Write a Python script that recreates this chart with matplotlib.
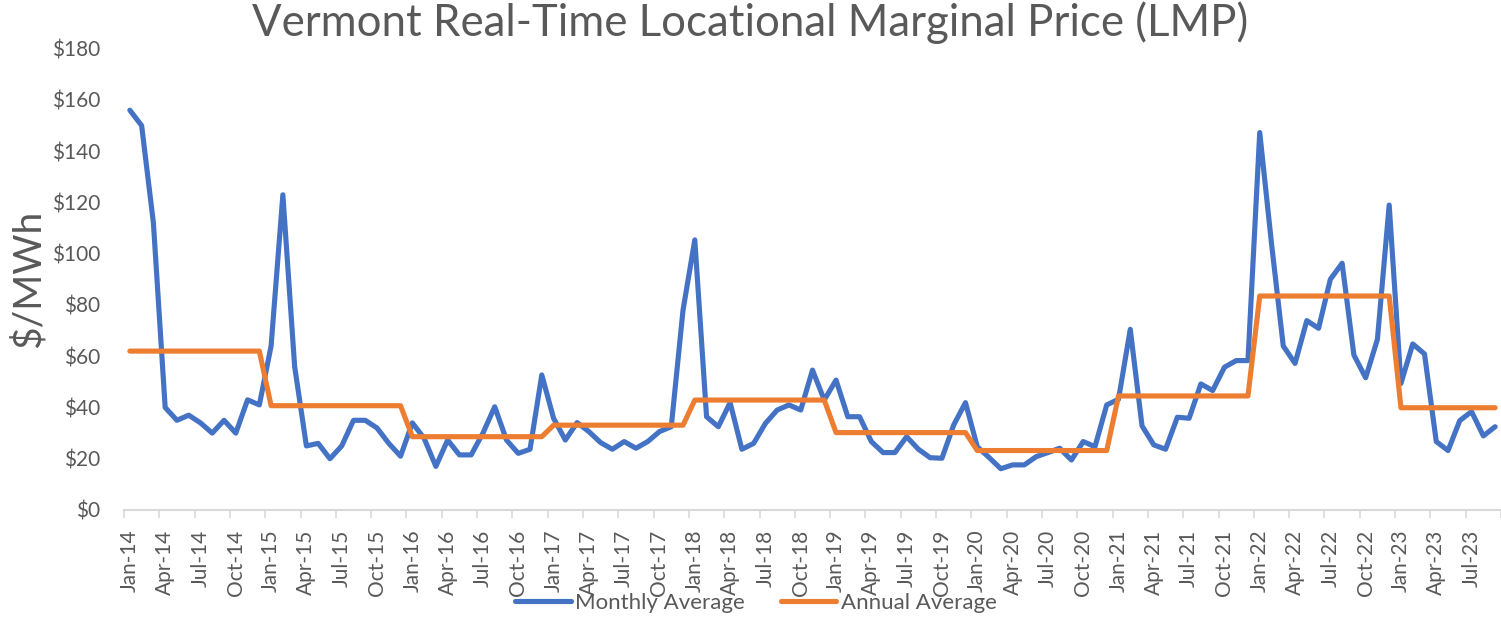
import matplotlib
matplotlib.use('Agg')
import matplotlib.pyplot as plt
import numpy as np

plt.rcParams['font.family'] = ['Lato', 'DejaVu Sans']

# monthly average LMP, Jan-14 .. Sep-23 ($/MWh)
monthly = [
    156, 150, 112, 40, 35, 37, 34, 30, 35, 30, 43, 41,              # 2014
    64, 123, 56, 25, 26, 20, 25, 35, 35, 32, 26, 21,                # 2015
    34, 28, 17, 27.3, 21.5, 21.5, 30, 40.3, 27.3, 22.1, 23.7, 52.7,  # 2016
    35.8, 27.3, 34.1, 30.6, 26.3, 23.7, 26.7, 24.1, 26.7, 30.6, 32.5, 78,  # 2017
    105.4, 36.4, 32.5, 41.9, 23.7, 26, 33.8, 39, 41, 39, 54.6, 42.9,      # 2018
    50.7, 36.4, 36.4, 26.7, 22.4, 22.4, 28.6, 23.7, 20.4, 20.2, 33.2, 41.9,  # 2019
    24.7, 20.5, 16.1, 17.6, 17.6, 20.8, 22.4, 24.1, 19.5, 26.7, 24.7, 41,    # 2020
    43.2, 70.5, 32.8, 25.4, 23.7, 36.2, 35.8, 49.2, 46.6, 55.7, 58.3, 58.3,  # 2021
    147.3, 104, 64, 57.2, 73.9, 70.9, 90, 96.3, 60.5, 51.6, 66.6, 119,       # 2022
    49.4, 64.8, 60.9, 26.7, 23.2, 34.9, 38.4, 28.9, 32.5,                    # 2023
]

years = [2014, 2015, 2016, 2017, 2018, 2019, 2020, 2021, 2022, 2023]
annual = [62, 40.7, 28.6, 33.1, 42.9, 30.2, 23.2, 44.5, 83.5, 39.9]
months_per_year = [12, 12, 12, 12, 12, 12, 12, 12, 12, 9]

month_names = ['Jan', 'Feb', 'Mar', 'Apr', 'May', 'Jun',
               'Jul', 'Aug', 'Sep', 'Oct', 'Nov', 'Dec']
labels = []
for y, n in zip(years, months_per_year):
    for m in range(n):
        labels.append(f"{month_names[m]}-{str(y)[2:]}")

annual_monthly = np.repeat(annual, months_per_year)
x = np.arange(len(monthly))

fig = plt.figure(figsize=(15.01, 6.19), dpi=100)
ax = fig.add_axes([0.0826, 0.1761, 0.9174, 0.7452])

blue = "#4472C4"
orange = "#ED7D31"
grey = "#595959"

ax.plot(x, monthly, color=blue, lw=3.7, solid_joinstyle='round',
        solid_capstyle='round', label="Monthly Average")
ax.plot(x, annual_monthly, color=orange, lw=3.7, solid_joinstyle='round',
        solid_capstyle='round', label="Annual Average")

ax.set_xlim(-0.5, len(monthly) - 0.5)
ax.set_ylim(0, 180)
ax.set_yticks(np.arange(0, 181, 20))
ax.set_yticklabels([f"${v}" for v in range(0, 181, 20)], color=grey, fontsize=15)

ax.set_xticks(x[::3])
ax.set_xticklabels(labels[::3], rotation=90, color=grey, fontsize=15)
ax.set_xticks(np.arange(-0.5, len(monthly), 3), minor=True)
ax.tick_params(axis='x', which='major', length=0, pad=14)
ax.tick_params(axis='x', which='minor', length=6, width=1.2, color="#D9D9D9")
ax.tick_params(axis='y', length=0, pad=17)

for s in ['top', 'right', 'left']:
    ax.spines[s].set_visible(False)
ax.spines['bottom'].set_color("#D9D9D9")
ax.spines['bottom'].set_linewidth(1.5)

ax.set_ylabel("$/MWh", fontsize=28, color=grey, labelpad=4)
fig.text(0.4996, 0.964, "Vermont Real-Time Locational Marginal Price (LMP)",
         ha='center', va='center', fontsize=31.5, color=grey)

fig.legend(loc='center', bbox_to_anchor=(756 / 1501, 1 - 603 / 619), ncol=2,
           frameon=False, fontsize=16, handlelength=2.5, handletextpad=0.22,
           columnspacing=1.6, labelcolor=grey, borderpad=0)

fig.savefig("out.png", dpi=100)
